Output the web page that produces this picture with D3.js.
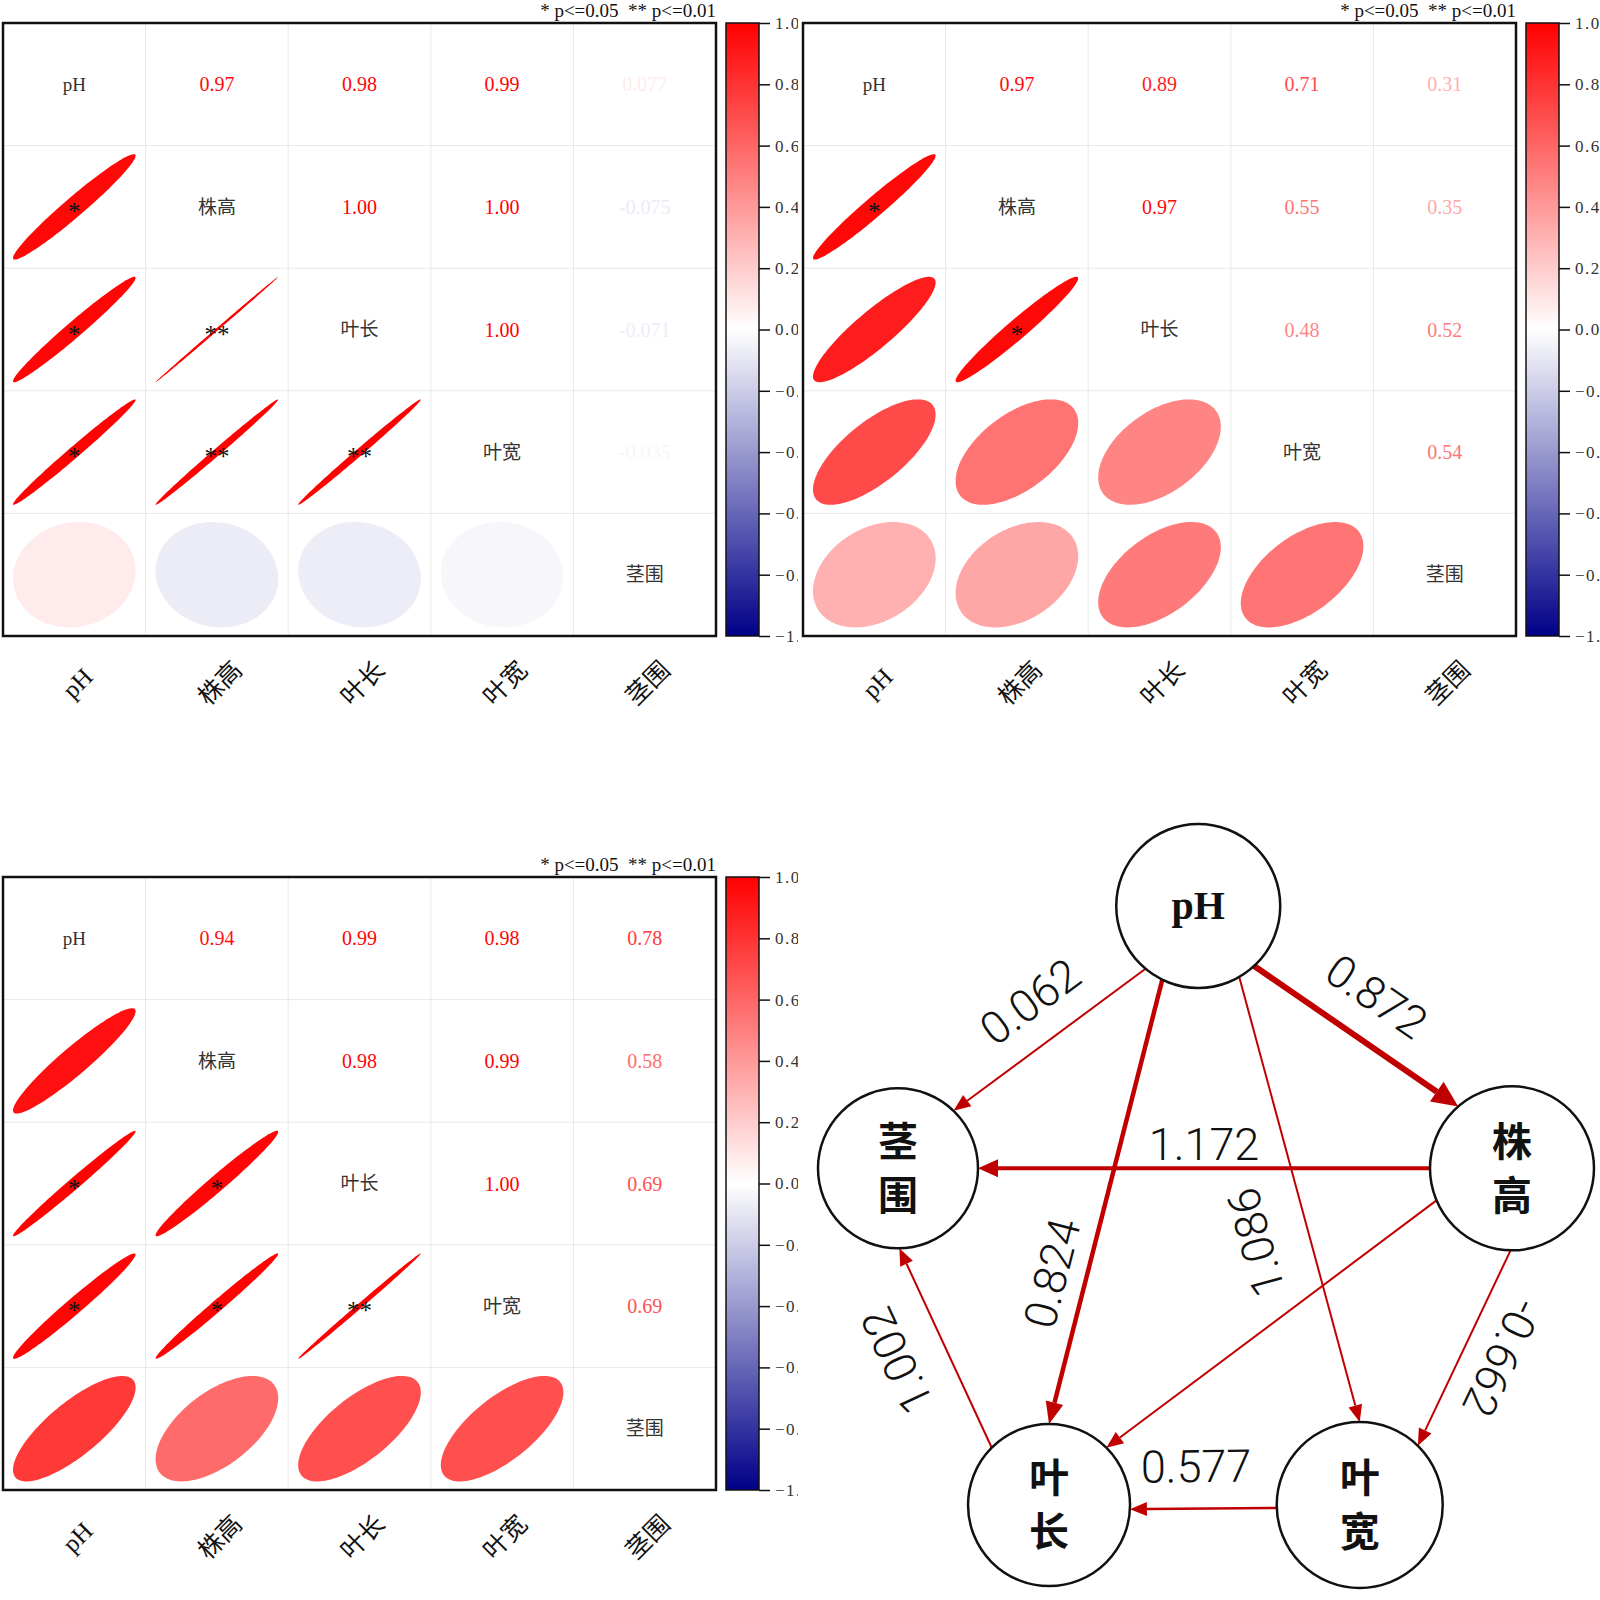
<!DOCTYPE html>
<html>
<head>
<meta charset="utf-8">
<script src="https://cdn.jsdelivr.net/npm/d3@7"></script>
<style>
    body { margin: 0; background: #fff; }
    svg { display: block; }
</style>
</head>
<body>
<div id="chart"></div>
<script>
// variable names, same order on both axes of every matrix
var vars = ["pH", "株高", "叶长", "叶宽", "茎围"];

var corrA = [
    [1, 0.97, 0.98, 0.99, 0.077],
    [0.97, 1, 0.9995, 0.996, -0.075],
    [0.98, 0.9995, 1, 0.996, -0.071],
    [0.99, 0.996, 0.996, 1, -0.035],
    [0.077, -0.075, -0.071, -0.035, 1]
];
var corrB = [
    [1, 0.97, 0.89, 0.71, 0.31],
    [0.97, 1, 0.97, 0.55, 0.35],
    [0.89, 0.97, 1, 0.48, 0.52],
    [0.71, 0.55, 0.48, 1, 0.54],
    [0.31, 0.35, 0.52, 0.54, 1]
];
var corrC = [
    [1, 0.94, 0.99, 0.98, 0.78],
    [0.94, 1, 0.98, 0.99, 0.58],
    [0.99, 0.98, 1, 0.998, 0.69],
    [0.98, 0.99, 0.998, 1, 0.69],
    [0.78, 0.58, 0.69, 0.69, 1]
];

// significance marks in the lower triangle, row by row
var sigA = [[], ["*"], ["*", "**"], ["*", "**", "**"], ["", "", "", ""]];
var sigB = [[], ["*"], ["", "*"], ["", "", ""], ["", "", "", ""]];
var sigC = [[], [""], ["*", "*"], ["*", "*", "**"], ["", "", "", ""]];

// colour bar
var barTicks = [1, 0.8, 0.6, 0.4, 0.2, 0, -0.2, -0.4, -0.6, -0.8, -1];
var legendText = "* p<=0.05  ** p<=0.01";

// path diagram
var nodeNames = ["pH", "株高", "茎围", "叶长", "叶宽"];
var edgeFrom = ["pH", "pH", "pH", "pH", "株高", "株高", "株高", "叶长", "叶宽"];
var edgeTo = ["茎围", "株高", "叶长", "叶宽", "茎围", "叶长", "叶宽", "茎围", "叶长"];
var edgeCoef = [0.062, 0.872, 0.824, 1.086, 1.172, null, -0.662, 1.002, 0.577];

/* ---------- layout and styles ---------- */
var serif = "'Liberation Serif', 'Noto Sans CJK SC', serif";
var cjk = "'Noto Sans CJK SC', sans-serif";

var frameW = 713, frameH = 613;

var color = d3.scaleLinear()
    .domain([-1, 0, 1])
    .range(["#000088", "#ffffff", "#ff0000"]);

// node positions in a 0-100 box, mapped onto the page below
var nodeLayout = {
    "pH": { x: 48.9, y: 0, r: 82 },
    "株高": { x: 100, y: 43.8, r: 82 },
    "茎围": { x: 0, y: 43.8, r: 80 },
    "叶长": { x: 24.6, y: 100, r: 81 },
    "叶宽": { x: 75.2, y: 100, r: 83 }
};
// where each arrow leaves / meets the circles, widths, label placement
var edgeStyle = [
    { a0: 130, a1: -46, w: 2, hl: 17, hw: 7, t: 0.47, off: 42, flip: true },
    { a0: 47, a1: -131, w: 6, hl: 26, hw: 12, t: 0.477, off: -44, flip: false },
    { a0: 116, a1: -90, w: 4.5, hl: 22, hw: 9, t: 0.68, off: 34, flip: true },
    { a0: 60, a1: -90, w: 2, hl: 17, hw: 7, t: 0.565, off: 53, flip: true },
    { a0: 180, a1: 0, w: 4, hl: 20, hw: 9, t: 0.5, off: 24, flip: true },
    { a0: 157, a1: -45, w: 2, hl: 17, hw: 7, t: 0.5, off: 0, flip: false },
    { a0: 91, a1: -45.5, w: 2, hl: 17, hw: 7, t: 0.466, off: -38, flip: false },
    { a0: -135, a1: 89, w: 2, hl: 17, hw: 7, t: 0.54, off: -49, flip: false },
    { a0: 178, a1: 3, w: 2.5, hl: 17, hw: 7, t: 0.547, off: 42, flip: true }
];

var svg = d3.select("#chart")
    .append("svg")
    .attr("width", 1600)
    .attr("height", 1600);

svg.append("rect")
    .attr("width", 1600)
    .attr("height", 1600)
    .attr("fill", "#fff");

var defs = svg.append("defs");

// gradient for the colour bars
var gradient = defs.append("linearGradient")
    .attr("id", "bar-gradient")
    .attr("x1", "0%").attr("y1", "100%")
    .attr("x2", "0%").attr("y2", "0%");
barTicks.slice().reverse().forEach(function (v) {
    gradient.append("stop")
        .attr("offset", ((v + 1) / 2 * 100) + "%")
        .attr("stop-color", color(v));
});

function fmt(v) {
    return Math.abs(v) < 0.1 ? v.toFixed(3) : v.toFixed(2);
}

// ellipse outline for a correlation r, corrplot style
function ellipsePoints(r, ax, ay) {
    var d = Math.acos(Math.max(-1, Math.min(1, r)));
    return d3.range(0, 121).map(function (i) {
        var t = i / 120 * 2 * Math.PI;
        return [Math.cos(t + d / 2) * ax, -Math.cos(t - d / 2) * ay];
    });
}

function drawPanel(corr, sig, x0, y0, clipW, id) {
    // the colour bar labels are cut at the panel edge, as in the source figure
    defs.append("clipPath")
        .attr("id", "clip-" + id)
        .append("rect")
        .attr("x", x0 - 3).attr("y", y0 - 30)
        .attr("width", clipW).attr("height", 760);

    var g = svg.append("g")
        .attr("clip-path", "url(#clip-" + id + ")")
        .append("g")
        .attr("transform", "translate(" + x0 + "," + y0 + ")");

    var x = d3.scaleBand().domain(vars).range([0, frameW]);
    var y = d3.scaleBand().domain(vars).range([0, frameH]);
    var cw = x.bandwidth(), ch = y.bandwidth();

    // light grid between cells
    g.selectAll(".vgrid")
        .data(vars.slice(1))
        .enter()
        .append("line")
        .attr("x1", function (d) { return x(d); })
        .attr("x2", function (d) { return x(d); })
        .attr("y1", 0).attr("y2", frameH)
        .attr("stroke", "#e8e8e8");
    g.selectAll(".hgrid")
        .data(vars.slice(1))
        .enter()
        .append("line")
        .attr("y1", function (d) { return y(d); })
        .attr("y2", function (d) { return y(d); })
        .attr("x1", 0).attr("x2", frameW)
        .attr("stroke", "#e8e8e8");

    var cells = [];
    vars.forEach(function (rv, i) {
        vars.forEach(function (cv, j) {
            cells.push({ i: i, j: j, row: rv, col: cv, v: corr[i][j] });
        });
    });

    var line = d3.line().curve(d3.curveLinearClosed);

    // ellipses in the lower triangle
    g.selectAll(".ell")
        .data(cells.filter(function (c) { return c.i > c.j; }))
        .enter()
        .append("path")
        .attr("class", "ell")
        .attr("transform", function (c) {
            return "translate(" + (x(c.col) + cw / 2) + "," + (y(c.row) + ch / 2) + ")";
        })
        .attr("d", function (c) { return line(ellipsePoints(c.v, cw * 0.43, ch * 0.43)); })
        .attr("fill", function (c) { return color(c.v); });

    // significance stars
    g.selectAll(".sig")
        .data(cells.filter(function (c) { return c.i > c.j && sig[c.i][c.j]; }))
        .enter()
        .append("text")
        .attr("x", function (c) { return x(c.col) + cw / 2; })
        .attr("y", function (c) { return y(c.row) + ch / 2 + 13; })
        .attr("text-anchor", "middle")
        .style("font-family", serif)
        .style("font-size", "25px")
        .attr("fill", "#111")
        .text(function (c) { return sig[c.i][c.j]; });

    // numbers in the upper triangle
    g.selectAll(".num")
        .data(cells.filter(function (c) { return c.i < c.j; }))
        .enter()
        .append("text")
        .attr("x", function (c) { return x(c.col) + cw / 2; })
        .attr("y", function (c) { return y(c.row) + ch / 2; })
        .attr("dy", "0.35em")
        .attr("text-anchor", "middle")
        .style("font-family", serif)
        .style("font-size", "20px")
        .attr("fill", function (c) { return color(c.v); })
        .text(function (c) { return fmt(c.v); });

    // names on the diagonal
    g.selectAll(".diag")
        .data(vars)
        .enter()
        .append("text")
        .attr("x", function (d) { return x(d) + cw / 2; })
        .attr("y", function (d) { return y(d) + ch / 2; })
        .attr("dy", "0.35em")
        .attr("text-anchor", "middle")
        .style("font-family", serif)
        .style("font-size", "19px")
        .attr("fill", "#333")
        .text(function (d) { return d; });

    // frame
    g.append("rect")
        .attr("width", frameW).attr("height", frameH)
        .attr("fill", "none")
        .attr("stroke", "#111")
        .attr("stroke-width", 2.5);

    // rotated names under the frame
    g.selectAll(".xlab")
        .data(vars)
        .enter()
        .append("text")
        .attr("transform", function (d) {
            return "translate(" + (x(d) + cw / 2 + 3) + "," + (frameH + 47) + ") rotate(-45)";
        })
        .attr("text-anchor", "middle")
        .attr("dy", "0.35em")
        .style("font-family", serif)
        .style("font-size", "25px")
        .attr("fill", "#111")
        .text(function (d) { return d; });

    // legend line
    g.append("text")
        .attr("x", frameW)
        .attr("y", -6)
        .attr("text-anchor", "end")
        .style("font-family", serif)
        .style("font-size", "19px")
        .style("white-space", "pre")
        .attr("fill", "#111")
        .text(legendText);

    // colour bar
    var barY = d3.scaleLinear().domain([-1, 1]).range([frameH, 0]);
    var bar = g.append("g").attr("transform", "translate(723,0)");
    bar.append("rect")
        .attr("width", 33).attr("height", frameH)
        .attr("fill", "url(#bar-gradient)")
        .attr("stroke", "#111")
        .attr("stroke-width", 1.5);
    bar.append("g")
        .attr("transform", "translate(33,0)")
        .call(d3.axisRight(barY)
            .tickValues(barTicks)
            .tickSize(11)
            .tickPadding(5)
            .tickFormat(d3.format(".1f")))
        .call(function (a) {
            a.select(".domain").remove();
            a.selectAll(".tick line").attr("stroke", "#111").attr("stroke-width", 1.5);
            a.selectAll(".tick text")
                .style("font-family", serif)
                .style("font-size", "17px")
                .style("letter-spacing", "1.5px")
                .attr("fill", "#333");
        });
}

drawPanel(corrA, sigA, 3, 23, 798, "a");
drawPanel(corrB, sigB, 803, 23, 800, "b");
drawPanel(corrC, sigC, 3, 877, 798, "c");

/* ---------- path diagram ---------- */
var nx = d3.scaleLinear().domain([0, 100]).range([898, 1512]);
var ny = d3.scaleLinear().domain([0, 100]).range([906, 1505]);
var red = "#c00000";

function port(name, deg) {
    var n = nodeLayout[name], a = deg * Math.PI / 180;
    return [nx(n.x) + n.r * Math.cos(a), ny(n.y) + n.r * Math.sin(a)];
}

var net = svg.append("g");

edgeFrom.forEach(function (from, k) {
    var s = edgeStyle[k];
    var p0 = port(from, s.a0), p1 = port(edgeTo[k], s.a1);
    var dx = p1[0] - p0[0], dy = p1[1] - p0[1];
    var len = Math.sqrt(dx * dx + dy * dy);
    var ux = dx / len, uy = dy / len;
    var bx = p1[0] - ux * s.hl, by = p1[1] - uy * s.hl;

    net.append("line")
        .attr("x1", p0[0]).attr("y1", p0[1])
        .attr("x2", bx).attr("y2", by)
        .attr("stroke", red)
        .attr("stroke-width", s.w);

    net.append("polygon")
        .attr("points", [
            p1,
            [bx - uy * s.hw, by + ux * s.hw],
            [bx + uy * s.hw, by - ux * s.hw]
        ].map(function (p) { return p.join(","); }).join(" "))
        .attr("fill", red);

    if (edgeCoef[k] === null) return;
    var lx = p0[0] + dx * s.t - uy * s.off;
    var ly = p0[1] + dy * s.t + ux * s.off;
    var ang = Math.atan2(dy, dx) * 180 / Math.PI + (s.flip ? 180 : 0);
    net.append("text")
        .attr("transform", "translate(" + lx + "," + ly + ") rotate(" + ang + ")")
        .attr("text-anchor", "middle")
        .attr("dominant-baseline", "central")
        .style("font-family", "Roboto, 'Noto Sans', sans-serif")
        .style("font-weight", 300)
        .style("font-size", "45px")
        .attr("fill", "#111")
        .text(edgeCoef[k].toFixed(3));
});

// nodes
nodeNames.forEach(function (name) {
    var n = nodeLayout[name];
    var cx = nx(n.x), cy = ny(n.y);
    net.append("circle")
        .attr("cx", cx).attr("cy", cy).attr("r", n.r)
        .attr("fill", "none")
        .attr("stroke", "#111")
        .attr("stroke-width", 2.5);

    if (/^[A-Za-z]+$/.test(name)) {
        net.append("text")
            .attr("x", cx).attr("y", cy)
            .attr("dy", "0.33em")
            .attr("text-anchor", "middle")
            .style("font-family", serif)
            .style("font-weight", "bold")
            .style("font-size", "40px")
            .attr("fill", "#111")
            .text(name);
    } else {
        // chinese names stacked one character per line
        name.split("").forEach(function (ch, i) {
            net.append("text")
                .attr("x", cx).attr("y", cy + (i === 0 ? -27 : 27))
                .attr("dy", "0.36em")
                .attr("text-anchor", "middle")
                .style("font-family", cjk)
                .style("font-weight", "bold")
                .style("font-size", "40px")
                .attr("fill", "#111")
                .text(ch);
        });
    }
});
</script>
</body>
</html>
